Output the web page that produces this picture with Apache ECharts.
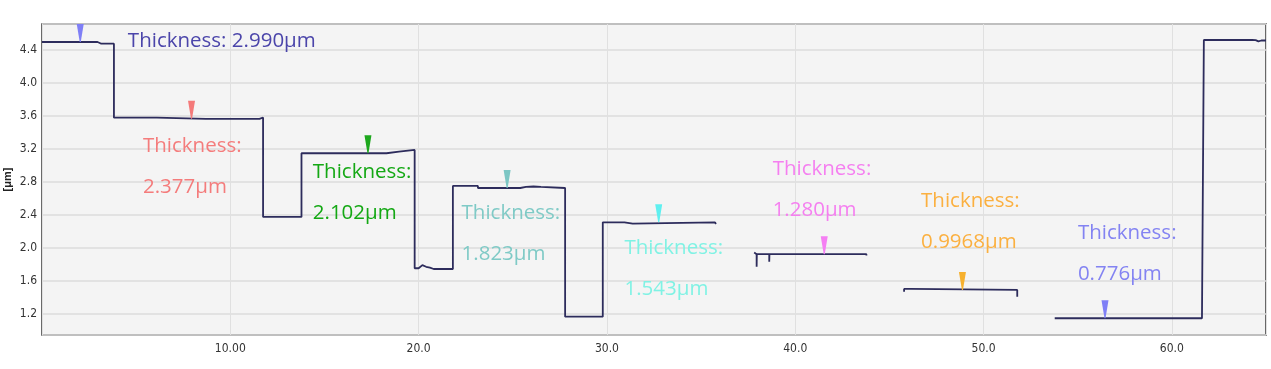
<!DOCTYPE html>
<html>
<head>
<meta charset="utf-8">
<script src="https://cdn.jsdelivr.net/npm/echarts@6/dist/echarts.min.js"></script>
<style>
html,body{margin:0;padding:0;background:#fff;}
#chart{width:1271px;height:369px;}
</style>
</head>
<body>
<div id="chart"></div>
<script>
// ---- Data ----
// Step-height profile (x in scan units, y in µm); null marks a gap in the trace
const profileX = [
  0, 2.95, 2.95, 3.15, 3.2, 3.3, 3.5, 3.55, 3.6, 3.82, 3.82,
  6.1, 6.1, 8.7, 8.74, 8.8, 11.55, 11.55, 11.74, 11.74,
  13.78, 13.78,
  18.29, 18.29, 18.96, 18.96, 19.79, 19.79,
  20.0, 20.2, 20.4, 20.6, 20.8, 21.82, 21.82,
  23.15, 23.15, 25.2, 25.3, 25.4, 25.7, 25.8, 26.1, 26.2, 26.5, 26.6, 27.78, 27.78,
  29.78, 29.78,
  30.93, 30.93, 31.37, 31.37, 35.74, 35.74, 35.79, 35.79,
  35.8,
  37.82, 37.86, 37.95, 37.95, 37.96, 38.62, 38.62, 38.63, 43.78, 43.78,
  43.8,
  45.78, 45.78, 46.14, 46.14, 51.79, 51.79,
  51.8,
  53.78, 58.35, 58.42, 58.5, 61.6, 61.6, 61.7, 61.7,
  64.26, 64.35, 64.45, 64.6, 64.75, 65.0
];
const profileY = [
  4.497, 4.497, 4.476, 4.476, 4.49, 4.476, 4.476, 4.49, 4.476, 4.476, 3.58,
  3.58, 3.565, 3.565, 3.585, 3.565, 3.565, 3.582, 3.582, 2.376,
  2.376, 3.148,
  3.148, 3.168, 3.168, 3.188, 3.188, 1.754,
  1.754, 1.792, 1.772, 1.762, 1.745, 1.745, 2.752,
  2.752, 2.727, 2.727, 2.745, 2.727, 2.74, 2.727, 2.745, 2.727, 2.74, 2.727, 2.727, 1.167,
  1.167, 2.311,
  2.311, 2.295, 2.295, 2.311, 2.311, 2.325, 2.325, 2.29,
  null,
  1.945, 1.925, 1.925, 1.773, 1.925, 1.925, 1.834, 1.925, 1.925, 1.91,
  null,
  1.47, 1.503, 1.503, 1.491, 1.491, 1.41,
  null,
  1.148, 1.148, 1.172, 1.148, 1.148, 1.138, 1.138, 4.521,
  4.521, 4.505, 4.52, 4.505, 4.515, 4.515
];

// Measurement cursors (pins) on the profile
const pinX = [2.03, 7.94, 17.31, 24.7, 32.75, 41.54, 48.88, 56.45];
const pinY = [4.497, 3.565, 3.148, 2.727, 2.311, 1.925, 1.491, 1.148];

// Thickness annotations
const annTexts = [
  'Thickness: 2.990μm',
  'Thickness:\n2.377μm',
  'Thickness:\n2.102μm',
  'Thickness:\n1.823μm',
  'Thickness:\n1.543μm',
  'Thickness:\n1.280μm',
  'Thickness:\n0.9968μm',
  'Thickness:\n0.776μm'
];

// Axis tick labels
const xTickLabels = { 10: '10.00', 20: '20.0', 30: '30.0', 40: '40.0', 50: '50.0', 60: '60.0' };
const yTickValues = [1.2, 1.6, 2.0, 2.4, 2.8, 3.2, 3.6, 4.0, 4.4];

// ---- Layout / style (kept separate from data) ----
const annAnchorX = [4.56, 5.36, 14.38, 22.28, 30.93, 38.8, 46.68, 55.01];
const annAnchorY = [4.509, 2.982, 2.673, 2.178, 1.755, 2.703, 2.319, 1.930];
const pinColors = ['#7f7ff6', '#f47a7a', '#1ea81e', '#7cc6c4', '#5ff0f0', '#f57ff3', '#f6b02e', '#7f7ff6'];
const annColors = ['#4b45aa', '#f47c7c', '#14a814', '#7fcac6', '#80f2e4', '#f57ff0', '#fbb040', '#8383f2'];

const lineData = profileX.map((x, i) => [x, profileY[i] === null ? '-' : profileY[i]]);
const pinData = pinX.map((x, i) => ({ value: [x, pinY[i]], itemStyle: { color: pinColors[i], opacity: 1 } }));
const annData = annTexts.map((t, i) => ({
  value: [annAnchorX[i], annAnchorY[i]],
  label: { formatter: t, color: annColors[i] }
}));

const chart = echarts.init(document.getElementById('chart'), null, { renderer: 'canvas' });
chart.setOption({
  animation: false,
  backgroundColor: '#ffffff',
  grid: {
    left: 42, right: 5, top: 24, bottom: 34,
    containLabel: false, outerBoundsMode: 'none',
    show: true, backgroundColor: '#f4f4f4', borderColor: '#3a3a3a', borderWidth: 1.5
  },
  xAxis: {
    type: 'value', min: 0, max: 65, interval: 10,
    axisLine: { show: false }, axisTick: { show: false },
    splitLine: { show: true, lineStyle: { color: '#e0e0e0', width: 1 } },
    axisLabel: {
      showMinLabel: false, showMaxLabel: false, margin: 8,
      color: '#333', fontSize: 12, fontFamily: '"Liberation Sans Narrow","DejaVu Sans Condensed",sans-serif',
      formatter: v => xTickLabels[Math.round(v)] || ''
    }
  },
  yAxis: {
    type: 'value', min: 0.945, max: 4.715,
    splitNumber: 10, minInterval: 0.4, maxInterval: 0.4,
    name: '[μm]', nameLocation: 'middle', nameGap: 29, nameMoveOverlap: false,
    nameTextStyle: { fontSize: 11, fontWeight: 'bold', color: '#222', fontFamily: 'Liberation Sans, Arial, sans-serif' },
    axisLine: { show: false }, axisTick: { show: false },
    splitLine: { show: true, lineStyle: { color: '#dcdcdc', width: 1.5 } },
    axisLabel: {
      showMinLabel: false, showMaxLabel: false, margin: 5,
      color: '#333', fontSize: 12, fontFamily: '"Liberation Sans Narrow","DejaVu Sans Condensed",sans-serif',
      formatter: v => {
        const hit = yTickValues.find(t => Math.abs(t - v) < 1e-6);
        return hit !== undefined ? hit.toFixed(1) : '';
      }
    }
  },
  series: [
    {
      type: 'line', data: lineData, showSymbol: false, symbol: 'none',
      connectNulls: false, z: 3,
      lineStyle: { color: '#2d2c5c', width: 1.8 }
    },
    {
      type: 'scatter', data: pinData, z: 4,
      itemStyle: { opacity: 1 },
      symbol: 'path://M0,0 L7,0 L4,18 L3,18 Z',
      symbolSize: [7, 18], symbolOffset: [0, '-50%'], symbolKeepAspect: false
    },
    {
      type: 'scatter', data: annData, z: 5, symbolSize: 0, silent: true,
      itemStyle: { opacity: 1 },
      label: {
        show: true, position: 'inside', align: 'left', verticalAlign: 'middle',
        textBorderWidth: 0, textBorderColor: 'transparent', textShadowBlur: 0,
        fontSize: 20.5, lineHeight: 41, fontFamily: '"Open Sans", "Noto Sans", sans-serif'
      }
    }
  ]
});
</script>
</body>
</html>
